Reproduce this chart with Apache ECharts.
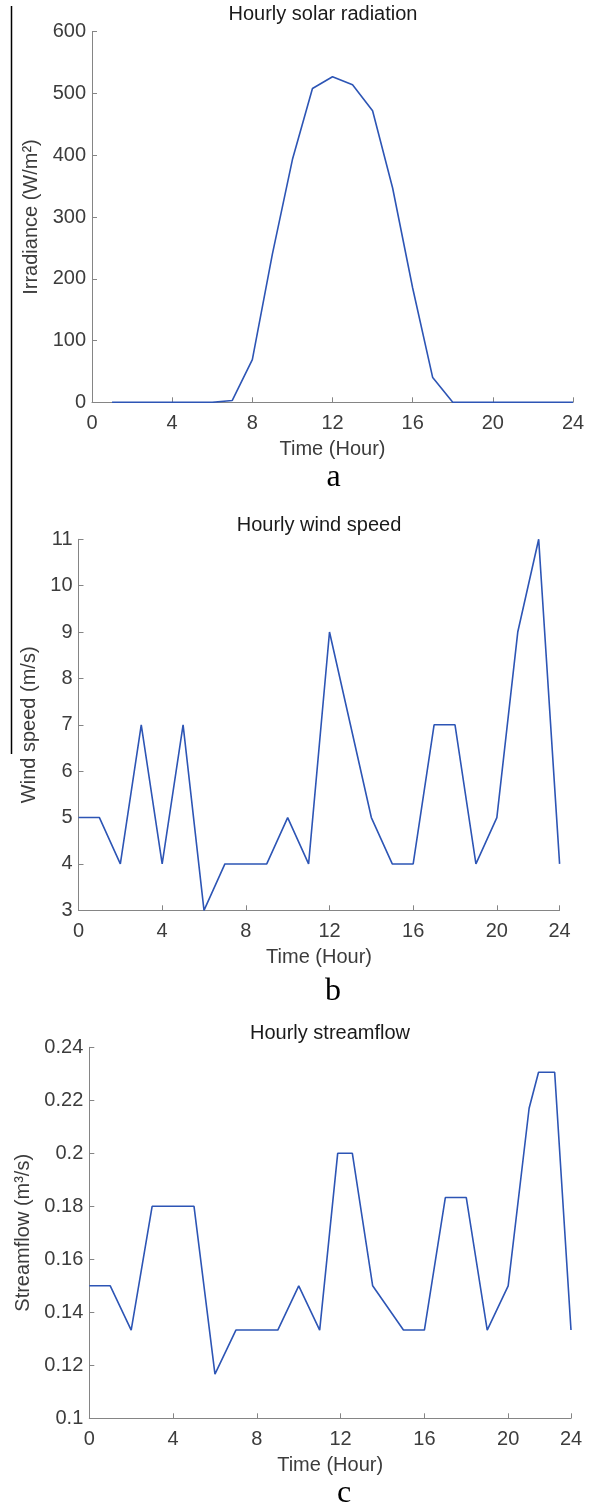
<!DOCTYPE html>
<html>
<head>
<meta charset="utf-8">
<script src="https://cdn.jsdelivr.net/npm/echarts@6/dist/echarts.min.js"></script>
<style>
    html, body { margin: 0; padding: 0; background: #fff; }
    #chart { width: 592px; height: 1504px; }
</style>
</head>
<body>
<div id="chart"></div>
<script>
    // panel a - solar radiation, hours 1..24
    var hoursA = [1, 2, 3, 4, 5, 6, 7, 8, 9, 10, 11, 12, 13, 14, 15, 16, 17, 18, 19, 20, 21, 22, 23, 24];
    var solar = [0, 0, 0, 0, 0, 0, 3, 69, 240, 393, 508, 527, 514, 472, 347, 185, 40, 0, 0, 0, 0, 0, 0, 0];

    // panel b - wind speed, hours 0..23
    var hoursB = [0, 1, 2, 3, 4, 5, 6, 7, 8, 9, 10, 11, 12, 13, 14, 15, 16, 17, 18, 19, 20, 21, 22, 23];
    var wind = [5, 5, 4, 7, 4, 7, 3, 4, 4, 4, 5, 4, 9, 7, 5, 4, 4, 7, 7, 4, 5, 9, 11, 4];

    // panel c - streamflow (break points)
    var hoursC = [0, 1, 2, 3, 5, 6, 7, 9, 10, 11, 11.86, 12.56, 13.53, 15, 16, 17, 18, 19, 20, 21, 21.45, 22.22, 23];
    var flow = [0.15, 0.15, 0.1333, 0.18, 0.18, 0.1167, 0.1333, 0.1333, 0.15, 0.1333, 0.2, 0.2, 0.15, 0.1333, 0.1333, 0.1833, 0.1833, 0.1333, 0.15, 0.217, 0.2306, 0.2306, 0.1333];

    // tick labels
    var xTicksA = ['0', '4', '8', '12', '16', '20', '24'];
    var xTicksBC = ['0', '4', '8', '12', '16', '20', '24'];

    var titles = ['Hourly solar radiation', 'Hourly wind speed', 'Hourly streamflow'];
    var yNames = ['Irradiance (W/m\u00b2)', 'Wind speed (m/s)', 'Streamflow (m\u00b3/s)'];
    var panelTags = ['a', 'b', 'c'];

    var FONT = "'Liberation Sans', Arial, Helvetica, sans-serif";
    var FS = 20;
    var LINE = '#2d55b5';
    var AXIS = '#858585';
    var LABEL = '#3c3c3c';

    function pairs(xs, ys) {
        return xs.map(function (x, i) { return [x, ys[i]]; });
    }

    function xAxis(idx, max, ticks, gap) {
        return {
            type: 'value', gridIndex: idx, min: 0, max: max, interval: 4,
            name: 'Time (Hour)', nameLocation: 'middle', nameGap: gap,
            nameTextStyle: { fontFamily: FONT, fontSize: FS, color: LABEL },
            axisLine: { lineStyle: { color: AXIS, width: 1 } },
            axisTick: { inside: true, length: 5, lineStyle: { color: AXIS } },
            axisLabel: {
                margin: 11, fontFamily: FONT, fontSize: FS, color: LABEL,
                formatter: function (v, i) { return ticks[i]; }
            },
            splitLine: { show: false }
        };
    }

    function yAxis(idx, min, max, interval, gap) {
        return {
            type: 'value', gridIndex: idx, min: min, max: max, interval: interval,
            name: yNames[idx], nameLocation: 'middle', nameGap: gap,
            nameTextStyle: { fontFamily: FONT, fontSize: FS, color: LABEL },
            axisLine: { show: true, lineStyle: { color: AXIS, width: 1 } },
            axisTick: { show: true, inside: true, length: 5, lineStyle: { color: AXIS } },
            axisLabel: { margin: 6, fontFamily: FONT, fontSize: FS, color: LABEL },
            splitLine: { show: false }
        };
    }

    function titleAt(i, x, y) {
        return {
            text: titles[i], left: x, top: y, textAlign: 'center', padding: 0,
            textStyle: { fontFamily: FONT, fontSize: FS, fontWeight: 'normal', color: '#1a1a1a' }
        };
    }

    function tagAt(i, x, y) {
        return {
            type: 'text', x: x, y: y,
            style: {
                text: panelTags[i], x: 0, y: 0, textAlign: 'center', textVerticalAlign: 'middle',
                fontFamily: "'Liberation Serif', 'Times New Roman', serif", fontSize: 32, fill: '#000'
            }
        };
    }

    function lineSeries(idx, data) {
        return {
            type: 'line', xAxisIndex: idx, yAxisIndex: idx, data: data,
            showSymbol: false, symbol: 'none',
            lineStyle: { color: LINE, width: 1.6 },
            itemStyle: { color: LINE }
        };
    }

    var myChart = echarts.init(document.getElementById('chart'), null, { renderer: 'canvas' });
    var options = {
        animation: false,
        backgroundColor: '#fff',
        title: [titleAt(0, 323, 4), titleAt(1, 319, 515), titleAt(2, 330, 1023)],
        grid: [
            { left: 92, top: 31.7, width: 481, height: 370.6 },
            { left: 78.5, top: 539.3, width: 481.1, height: 371 },
            { left: 89.3, top: 1047.3, width: 481.7, height: 371 }
        ],
        xAxis: [xAxis(0, 24, xTicksA, 37), xAxis(1, 23, xTicksBC, 37), xAxis(2, 23, xTicksBC, 37)],
        yAxis: [yAxis(0, 0, 600, 100, 46), yAxis(1, 3, 11, 1, 35), yAxis(2, 0.1, 0.24, 0.02, 51)],
        series: [
            lineSeries(0, pairs(hoursA, solar)),
            lineSeries(1, pairs(hoursB, wind)),
            lineSeries(2, pairs(hoursC, flow))
        ],
        graphic: [
            // stray vertical rule on the left edge of the source figure
            { type: 'line', shape: { x1: 11.5, y1: 6, x2: 11.5, y2: 754 }, style: { stroke: '#000', lineWidth: 1.5 } },
            tagAt(0, 333.6, 478),
            tagAt(1, 333, 992),
            tagAt(2, 344, 1494)
        ]
    };
    myChart.setOption(options);
    window.addEventListener('resize', myChart.resize);
</script>
</body>
</html>
